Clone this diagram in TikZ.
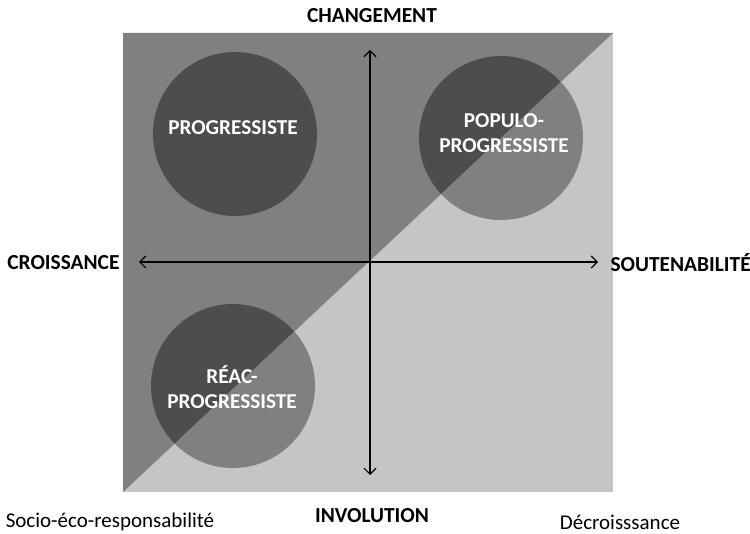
\documentclass[tikz,border=0pt]{standalone}
\usepackage{fontspec}
\setmainfont{Carlito}
\usetikzlibrary{arrows.meta}

\definecolor{darkzone}{HTML}{808080}
\definecolor{lightzone}{HTML}{C4C5C4}
\definecolor{blobdark}{HTML}{4D4D4D}
\definecolor{blobmid}{HTML}{808080}

\begin{document}
\begin{tikzpicture}[x=1pt, y=-1pt,
    axislabel/.style={font=\bfseries\fontsize{21.4}{24}\selectfont},
    blobtext/.style={font=\bfseries\fontsize{21.2}{24.5}\selectfont, text=white, align=center},
    pole/.style={font=\fontsize{21}{24}\selectfont},
    axisarrow/.style={{Straight Barb[length=6pt,width=12pt]}-{Straight Barb[length=6pt,width=12pt]}, line width=1.2pt}]

    \useasboundingbox (0,0) rectangle (750,534);

    % Corners of the square
    \coordinate (sw) at (123,492);
    \coordinate (nw) at (123,33);
    \coordinate (ne) at (613,33);
    \coordinate (se) at (613,492);

    % Two halves split by the diagonal
    \fill[lightzone] (sw) rectangle (ne);
    \fill[darkzone] (sw) -- (nw) -- (ne) -- cycle;

    % Circles, darker above the diagonal
    \foreach \cx/\cy in {235/134, 501/138, 233/386} {
        \begin{scope}
            \clip (sw) -- (nw) -- (ne) -- cycle;
            \fill[blobdark] (\cx,\cy) circle (82pt);
        \end{scope}
        \begin{scope}
            \clip (sw) -- (se) -- (ne) -- cycle;
            \fill[blobmid] (\cx,\cy) circle (82pt);
        \end{scope}
    }

    % Circle labels
    \node[blobtext] (prog) at (233,128) {PROGRESSISTE};
    \node[blobtext] (populo) at (504,133) {POPULO-\\PROGRESSISTE};
    \node[blobtext] (reac) at (232,387) {RÉAC-\\PROGRESSISTE};

    % Axis labels
    \node[axislabel] (change) at (372,16) {CHANGEMENT};
    \node[axislabel] (involution) at (372,516) {INVOLUTION};
    \node[axislabel, anchor=east] (croissance) at (123,263) {CROISSANCE};
    \node[axislabel, anchor=west] (soutenab) at (607,263) {SOUTENABILITÉ};

    % Corner labels
    \node[pole] (socio) at (110,522) {Socio-éco-responsabilité};
    \node[pole] (decroiss) at (620,522) {Décroisssance};

    % Axes
    \coordinate (top) at (370,50);
    \coordinate (bottom) at (370,475);
    \coordinate (left) at (139,262);
    \coordinate (right) at (598,262);
    \draw[axisarrow] (left) -- (right);
    \draw[axisarrow] (bottom) -- (top);

\end{tikzpicture}
\end{document}
